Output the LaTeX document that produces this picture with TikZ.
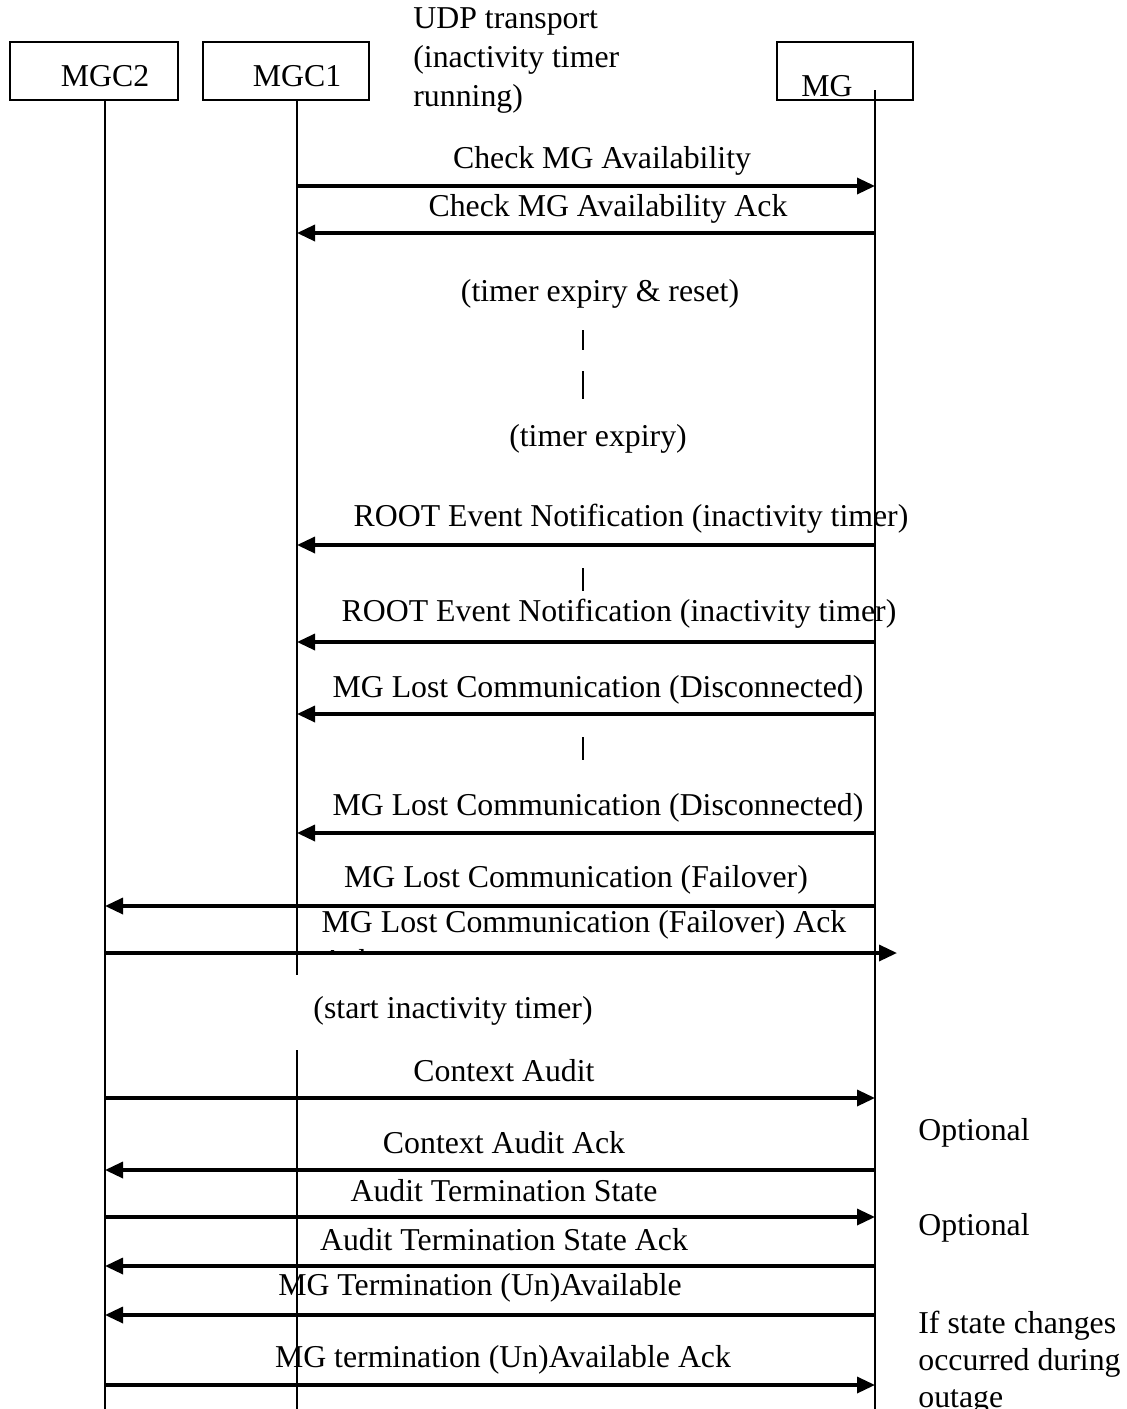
\documentclass[tikz,border=0pt]{standalone}
\usepackage{fontspec}
\setmainfont{Liberation Serif}
\usetikzlibrary{arrows.meta}
\begin{document}
\begin{tikzpicture}[x=0.5pt,y=-0.5pt,
  lbl/.style={inner sep=0pt, yshift=-1.5pt, font=\fontsize{15.9}{19.5}\selectfont},
  actor/.style={draw, line width=0.6pt, inner sep=0pt},
  life/.style={line width=0.6pt},
  msg/.style={line width=1.7pt, -{Triangle[length=9pt,width=8pt]}},
  tickmark/.style={line width=0.6pt}]
\useasboundingbox (0,0) rectangle (1127,1409);

% actor boxes
\node[actor, minimum width=84pt, minimum height=29pt] (b2) at (94,71) {};
\node[actor, minimum width=83pt, minimum height=29pt] (b1) at (286,71) {};
\node[actor, minimum width=68pt, minimum height=29pt] (bg) at (845,71) {};
\node[lbl] (n2) at (105,73) {MGC2};
\node[lbl] (n1) at (297,73) {MGC1};
\node[lbl] (ng) at (827,83) {MG};
\node[lbl, anchor=west, align=left] (udp) at (413,58) {UDP transport\\(inactivity timer\\running)};

% lifelines
\coordinate (l2) at (105,100);
\coordinate (l2e) at (105,1409);
\coordinate (l1) at (297,100);
\coordinate (l1a) at (297,975);
\coordinate (l1b) at (297,1050);
\coordinate (l1e) at (297,1409);
\coordinate (lg) at (875,90);
\coordinate (lge) at (875,1409);
\draw[life] (l2) -- (l2e);
\draw[life] (l1) -- (l1a);
\draw[life] (l1b) -- (l1e);
\draw[life] (lg) -- (lge);

% small vertical marks
\coordinate (p1a) at (583,330); \coordinate (p1b) at (583,350);
\coordinate (p2a) at (583,371); \coordinate (p2b) at (583,399);
\coordinate (p3a) at (583,568); \coordinate (p3b) at (583,591);
\coordinate (p4a) at (583,737); \coordinate (p4b) at (583,760);
\draw[tickmark] (p1a) -- (p1b);
\draw[tickmark] (p2a) -- (p2b);
\draw[tickmark] (p3a) -- (p3b);
\draw[tickmark] (p4a) -- (p4b);

% messages
\node[lbl] (t1) at (602,158) {Check MG Availability};
\draw[msg] (l1 |- 0,186) -- (lg |- 0,186);
\node[lbl] (t2) at (608,206) {Check MG Availability Ack};
\draw[msg] (lg |- 0,233) -- (l1 |- 0,233);
\node[lbl] (t3) at (600,291) {(timer expiry \& reset)};
\node[lbl] (t4) at (598,436) {(timer expiry)};
\node[lbl] (t5) at (631,516) {ROOT Event Notification (inactivity timer)};
\draw[msg] (lg |- 0,545) -- (l1 |- 0,545);
\node[lbl] (t6) at (619,611) {ROOT Event Notification (inactivity timer)};
\draw[msg] (lg |- 0,642) -- (l1 |- 0,642);
\node[lbl] (t7) at (598,687) {MG Lost Communication (Disconnected)};
\draw[msg] (lg |- 0,714) -- (l1 |- 0,714);
\node[lbl] (t8) at (598,805) {MG Lost Communication (Disconnected)};
\draw[msg] (lg |- 0,833) -- (l1 |- 0,833);
\node[lbl] (t9) at (576,877) {MG Lost Communication (Failover)};
\draw[msg] (lg |- 0,906) -- (l2 |- 0,906);
\node[lbl] (t10) at (584,922) {MG Lost Communication (Failover) Ack};
\begin{scope}
  \clip (300,930) rectangle (400,953);
  \node[lbl, anchor=north west] (ackc) at (321,946) {Ack};
\end{scope}
\coordinate (fo) at (897,953);
\draw[msg] (l2 |- 0,953) -- (fo);
\node[lbl] (t11) at (453,1008) {(start inactivity timer)};
\node[lbl] (t12) at (504,1068) {Context Audit};
\draw[msg] (l2 |- 0,1098) -- (lg |- 0,1098);
\node[lbl] (t13) at (504,1140) {Context Audit Ack};
\draw[msg] (lg |- 0,1170) -- (l2 |- 0,1170);
\node[lbl, anchor=west] (o1) at (918,1130) {Optional};
\node[lbl] (t14) at (504,1188) {Audit Termination State};
\draw[msg] (l2 |- 0,1217) -- (lg |- 0,1217);
\node[lbl, anchor=west] (o2) at (918,1225) {Optional};
\node[lbl] (t15) at (504,1237) {Audit Termination State Ack};
\draw[msg] (lg |- 0,1266) -- (l2 |- 0,1266);
\node[lbl] (t16) at (480,1285) {MG Termination (Un)Available};
\draw[msg] (lg |- 0,1315) -- (l2 |- 0,1315);
\node[lbl, anchor=west, align=left, font=\fontsize{15.9}{18.5}\selectfont] (o3) at (918,1360) {If state changes\\occurred during\\outage};
\node[lbl] (t17) at (503,1357) {MG termination (Un)Available Ack};
\draw[msg] (l2 |- 0,1385) -- (lg |- 0,1385);
\end{tikzpicture}
\end{document}
